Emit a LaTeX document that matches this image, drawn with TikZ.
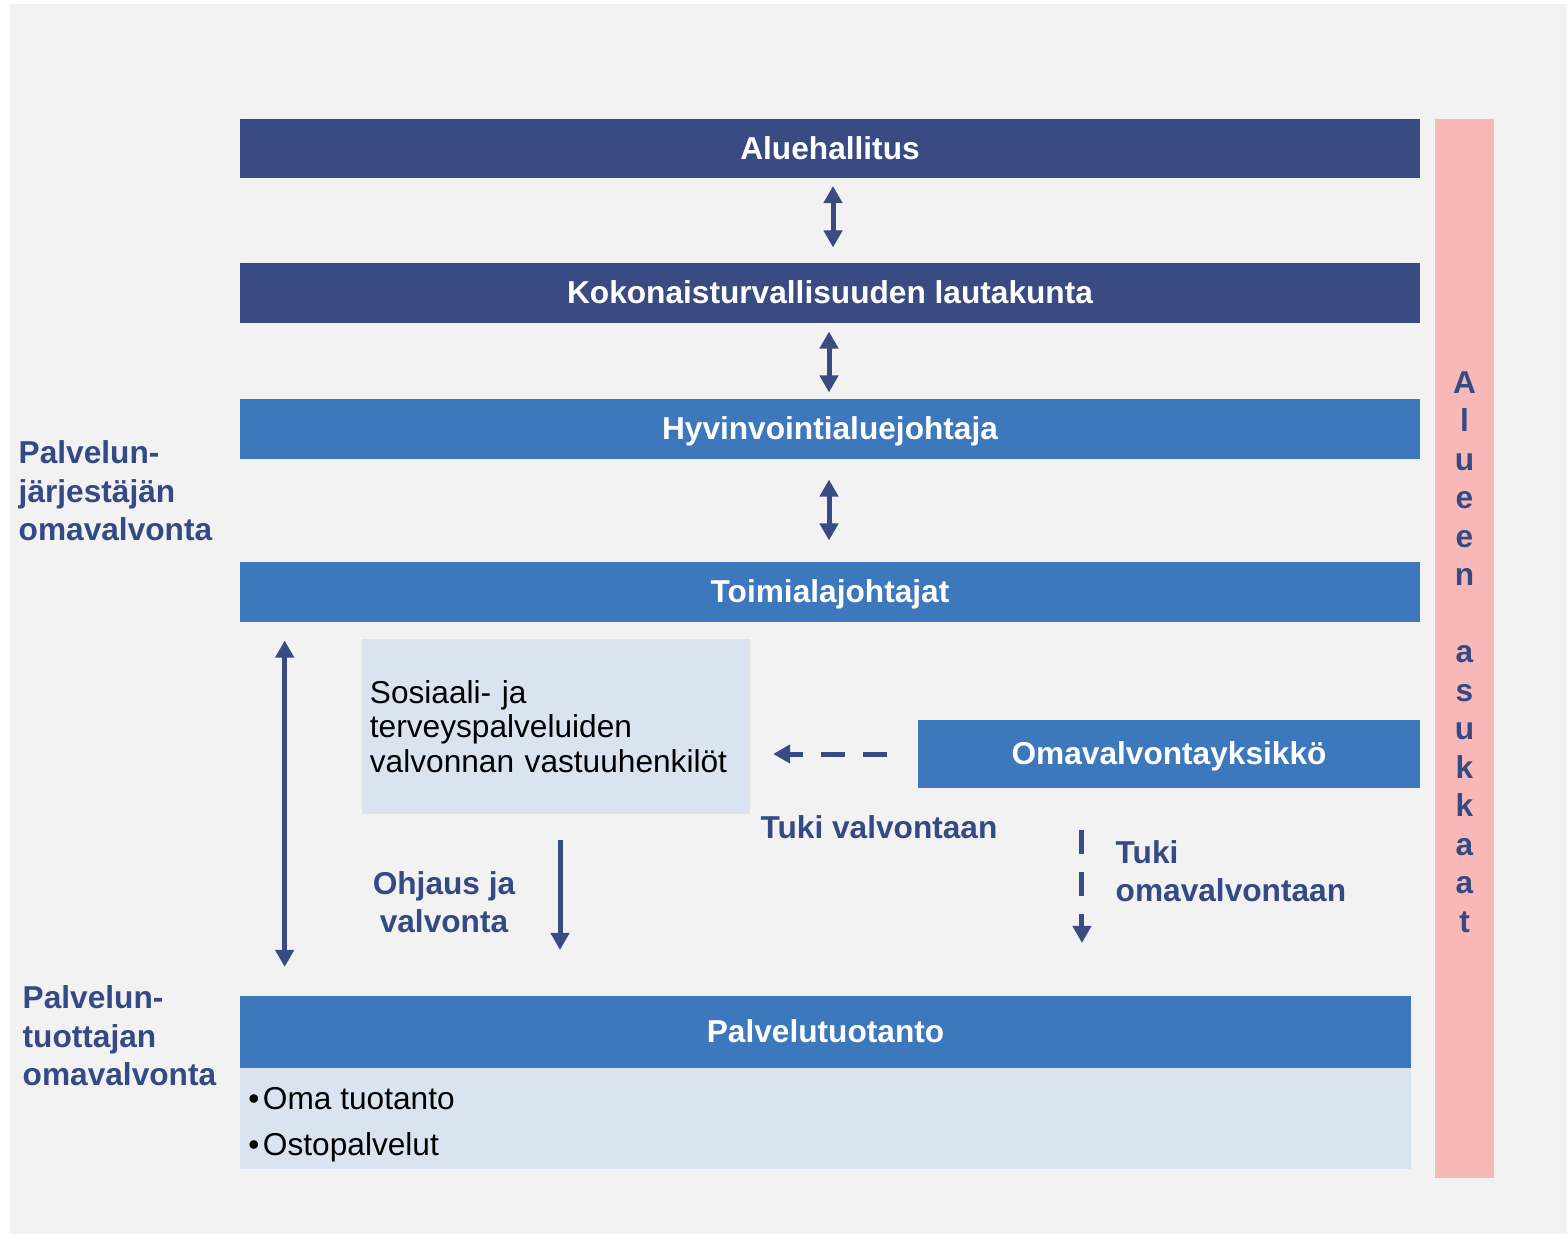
\documentclass[tikz,border=0pt]{standalone}
\usepackage{fontspec}
\setmainfont{Liberation Sans}
\usetikzlibrary{arrows.meta,calc}
\definecolor{darkblue}{HTML}{3A4A83}
\definecolor{midblue}{HTML}{3D77BC}
\definecolor{lightblue}{HTML}{DAE4F1}
\definecolor{pinkbar}{HTML}{F8B8B8}
\definecolor{bggrey}{HTML}{F2F2F2}
\definecolor{labelblue}{HTML}{354A85}
\begin{document}
\begin{tikzpicture}[x=0.01cm,y=-0.01cm,line join=round,>={Triangle[length=0.17cm,width=0.18cm]},
	font=\fontsize{9}{10.95}\selectfont,
	box/.style={inner sep=0pt,outer sep=0pt,text=white,font=\bfseries\fontsize{9}{10.95}\selectfont,
		text height=0.62em,text depth=0pt,minimum width=11.8cm,minimum height=0.59cm},
	darkbox/.style={box,fill=darkblue},
	midbox/.style={box,fill=midblue},
	lightbox/.style={fill=lightblue,inner sep=0pt,outer sep=0pt,text=black,font=\fontsize{9}{9.8}\selectfont},
	lbl/.style={text=labelblue,font=\bfseries\fontsize{9}{10.95}\selectfont,inner sep=0pt},
	conn/.style={draw=darkblue,line width=0.05cm},
	dashconn/.style={conn,dash pattern=on 0.24cm off 0.18cm}]
	\useasboundingbox (0,0) rectangle (1567,1234);
	\fill[white] (0,0) rectangle (1567,1234);
	\fill[bggrey] (10,4) rectangle (1567,1234);
	% boxes
	\node[darkbox] (ah) at (830,148.5) {Aluehallitus};
	\node[darkbox] (kl) at (830,293) {Kokonaisturvallisuuden lautakunta};
	\node[midbox] (hy) at (830,429) {Hyvinvointialuejohtaja};
	\node[midbox] (tj) at (830,592) {Toimialajohtajat};
	\node[lightbox,minimum width=3.88cm,minimum height=1.75cm,text width=3.72cm,inner xsep=0.08cm,align=left] (sos) at (556,726.5)
		{Sosiaali- ja\\terveyspalveluiden\\valvonnan vastuuhenkilöt};
	\node[midbox,minimum width=5.02cm,minimum height=0.68cm] (ov) at (1169,754) {Omavalvontayksikkö};
	\node[midbox,minimum width=11.71cm,minimum height=0.72cm] (pt) at (825.5,1032) {Palvelutuotanto};
	\node[lightbox,anchor=north,minimum width=11.71cm,minimum height=1.01cm] (ptl) at (pt.south) {};
	\node[anchor=west,align=left,inner sep=0pt,font=\fontsize{9}{13.1}\selectfont] (ptx) at ([xshift=0.08cm,yshift=-0.06cm]ptl.west)
		{•\kern1pt Oma tuotanto\\•\kern1pt Ostopalvelut};
	\node[fill=pinkbar,inner sep=0pt,minimum width=0.59cm,minimum height=10.59cm] (as) at (1464.5,648.5) {};
	\node[align=center,inner sep=0pt,text=labelblue,font=\bfseries\fontsize{9}{10.95}\selectfont] (ast) at ([yshift=-0.035cm]as.center)
		{A\\l\\u\\e\\e\\n\\[10.95pt]a\\s\\u\\k\\k\\a\\a\\t};
	% labels
	\node[lbl,anchor=west,align=left] (pj) at (18,491) {Palvelun-\\järjestäjän\\omavalvonta};
	\node[lbl,anchor=west,align=left] (ptu) at (22,1036) {Palvelun-\\tuottajan\\omavalvonta};
	\node[lbl,align=center] (ohj) at (444,902) {Ohjaus ja\\valvonta};
	\node[lbl] (tv) at (879,827) {Tuki valvontaan};
	\node[lbl,anchor=west,align=left] (to) at (1115,871) {Tuki\\omavalvontaan};
	% arrows
	\draw[conn,<->,shorten <=0.08cm,shorten >=0.16cm] ([xshift=0.03cm]ah.south) -- ([xshift=0.03cm]kl.north);
	\draw[conn,<->,shorten <=0.09cm,shorten >=0.07cm] ([xshift=-0.01cm]kl.south) -- ([xshift=-0.01cm]hy.north);
	\draw[conn,<->,shorten <=0.21cm,shorten >=0.22cm] ([xshift=-0.01cm]hy.south) -- ([xshift=-0.01cm]tj.north);
	\draw[conn,<->,shorten <=0.19cm,shorten >=0.29cm] ([xshift=0.45cm]tj.south west) -- ([xshift=0.45cm]tj.south west |- pt.north);
	\draw[conn,->,shorten <=0.26cm,shorten >=0.46cm] ([xshift=0.04cm]sos.south) -- ([xshift=0.04cm]sos.south |- pt.north);
	\draw[dashconn,->,shorten <=0.31cm,shorten >=0.23cm] (ov.west) -- (sos.east |- ov.west);
	\draw[dashconn,->,shorten <=0.42cm,shorten >=0.53cm] ([xshift=1.64cm]ov.south west) -- ([xshift=1.64cm]ov.south west |- pt.north);
\end{tikzpicture}
\end{document}
